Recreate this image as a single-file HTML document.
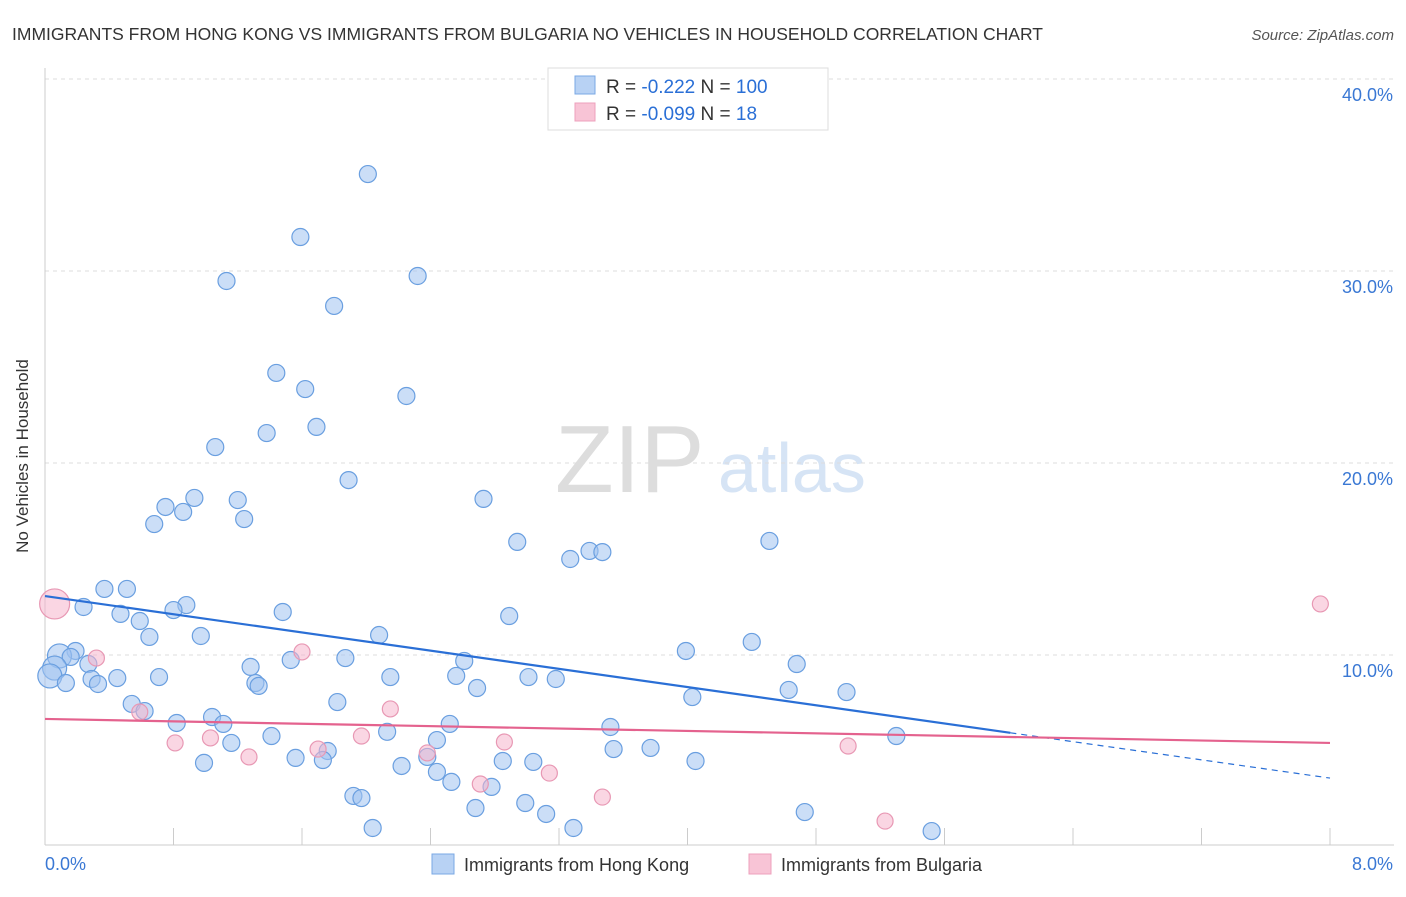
<!DOCTYPE html>
<html><head><meta charset="utf-8"><style>
body{margin:0;background:#fff;font-family:"Liberation Sans",sans-serif}
svg text{font-family:"Liberation Sans",sans-serif}
</style></head><body>
<svg id="c" width="1406" height="892">
<text x="12" y="40" font-size="17.5" fill="#333">IMMIGRANTS FROM HONG KONG VS IMMIGRANTS FROM BULGARIA NO VEHICLES IN HOUSEHOLD CORRELATION CHART</text>
<text x="1394" y="40" font-size="15" fill="#555" text-anchor="end" font-style="italic">Source: ZipAtlas.com</text>
<text x="28" y="456" font-size="17" fill="#333" text-anchor="middle" transform="rotate(-90 28 456)">No Vehicles in Household</text>
<text x="555" y="492" font-size="96" fill="#ddd" font-family="Liberation Serif">ZIP</text>
<text x="718" y="492" font-size="70" fill="#d6e4f5">atlas</text>
<g id="grid"></g><g id="axes"></g><g id="pts"></g><g id="trend"></g>
<g>
<rect x="548" y="68" width="280" height="62" fill="#fff" stroke="#ddd"/>
<rect x="575" y="76" width="20" height="18" fill="#b8d2f4" stroke="#7aa8e4"/>
<rect x="575" y="103" width="20" height="18" fill="#f8c4d6" stroke="#eea0bc"/>
<text x="606" y="93" font-size="19" fill="#333">R = <tspan fill="#2a6fd6">-0.222</tspan>   N = <tspan fill="#2a6fd6">100</tspan></text>
<text x="606" y="120" font-size="19" fill="#333">R = <tspan fill="#2a6fd6">-0.099</tspan>   N = <tspan fill="#2a6fd6">  18</tspan></text>
</g>
<g>
<rect x="432" y="854" width="22" height="20" fill="#b8d2f4" stroke="#7aa8e4"/>
<text x="464" y="871" font-size="18" fill="#333">Immigrants from Hong Kong</text>
<rect x="749" y="854" width="22" height="20" fill="#f8c4d6" stroke="#eea0bc"/>
<text x="781" y="871" font-size="18" fill="#333">Immigrants from Bulgaria</text>
</g>
</svg>
<script>
const blueX=[2.01,1.59,1.13,2.32,1.80,1.44,1.62,2.25,1.69,1.38,1.06,1.89,2.73,0.93,1.20,0.75,0.86,1.24,0.68,2.94,4.51,3.39,3.47,3.27,0.37,0.51,0.24,0.88,0.80,0.47,1.48,2.89,0.59,0.65,0.97,2.08,4.40,0.19,0.09,0.16,3.99,1.87,1.53,2.61,0.27,1.28,4.68,0.06,0.03,0.71,0.45,0.29,2.15,2.56,3.01,3.18,0.13,0.33,1.31,1.33,2.69,4.63,4.99,4.03,1.82,0.54,0.62,1.04,0.82,1.11,2.52,3.52,2.13,1.41,5.30,2.44,1.16,3.54,3.77,1.76,2.38,1.56,1.73,0.99,2.85,3.04,4.05,2.22,2.44,2.53,2.78,1.92,1.97,2.99,2.68,3.12,4.73,2.04,3.29,5.52];
const blueY=[35.05,31.77,29.48,29.74,28.18,24.69,23.85,23.49,21.88,21.56,20.83,19.11,18.13,18.18,18.07,17.71,17.45,17.08,16.82,15.89,15.94,15.42,15.36,15.00,13.44,13.44,12.50,12.60,12.34,12.14,12.24,12.03,11.77,10.94,10.99,11.04,10.68,10.21,9.95,9.90,10.21,9.84,9.74,9.69,9.53,9.38,9.53,9.32,8.91,8.85,8.80,8.75,8.85,8.91,8.85,8.75,8.54,8.49,8.54,8.39,8.28,8.18,8.07,7.81,7.55,7.45,7.08,6.77,6.46,6.41,6.41,6.25,6.00,5.78,5.78,5.57,5.42,5.10,5.16,5.00,4.69,4.64,4.53,4.38,4.48,4.43,4.48,4.22,3.91,3.39,3.13,2.66,2.55,2.29,2.03,1.72,1.82,0.99,0.99,0.83];
const pinkX=[0.06,0.32,1.60,0.59,2.15,0.81,1.03,1.97,1.70,1.27,2.38,2.86,5.00,2.71,3.14,3.47,5.23,7.94];
const pinkY=[12.66,9.84,10.16,7.03,7.19,5.42,5.68,5.78,5.10,4.69,4.90,5.47,5.26,3.28,3.85,2.60,1.35,12.66];
const yTicks=[10,20,30,40];
const yTickLabels=["10.0%","20.0%","30.0%","40.0%"];
const xTicks=[0,0.8,1.6,2.4,3.2,4.0,4.8,5.6,6.4,7.2,8.0];
const blueTrend=[13.07,3.59]; const blueSolidEnd=6.01;
const pinkTrend=[6.67,5.42];
const X=v=>45+v*1285/8, Y=v=>847-v*19.2;
const NS="http://www.w3.org/2000/svg";
function mk(p,t,a){const e=document.createElementNS(NS,t);for(const k in a)e.setAttribute(k,a[k]);p.appendChild(e);return e;}
const grid=document.getElementById('grid'),axes=document.getElementById('axes'),pts=document.getElementById('pts'),tr=document.getElementById('trend');
yTicks.forEach((t,i)=>{
 const l=mk(grid,'line',{x1:45,x2:1394,y1:Y(t),y2:Y(t),stroke:'#ddd','stroke-dasharray':'4,4'});
 
 
 const tx=mk(axes,'text',{x:1393,y:Y(t)+22,'font-size':18,fill:'#3a78d4','text-anchor':'end'});tx.textContent=yTickLabels[i];
 
 
});
mk(axes,'line',{x1:45,x2:45,y1:68,y2:845,stroke:'#ccc'});
mk(axes,'line',{x1:45,x2:1394,y1:845,y2:845,stroke:'#ccc'});
xTicks.forEach(t=>{const l=mk(axes,'line',{x1:X(t),x2:X(t),y1:828,y2:845,stroke:'#ccc'});
 
 });
let t0=mk(axes,'text',{x:45,y:870,'font-size':18,fill:'#3a78d4'});t0.textContent='0.0%';


let t1=mk(axes,'text',{x:1393,y:870,'font-size':18,fill:'#3a78d4','text-anchor':'end'});t1.textContent='8.0%';


blueX.forEach((v,i)=>{const r=(v<0.1)?12:8.5;const c=mk(pts,'circle',{cx:X(v),cy:Y(blueY[i]),r:r,fill:'rgba(160,195,240,0.55)',stroke:'#6a9fe0','stroke-width':1.2});
 
 });
pinkX.forEach((v,i)=>{const r=(v<0.1)?15:8;const c=mk(pts,'circle',{cx:X(v),cy:Y(pinkY[i]),r:r,fill:'rgba(246,180,204,0.55)',stroke:'#e898b4','stroke-width':1.2});
 
 });
const by=x=>blueTrend[0]+(blueTrend[1]-blueTrend[0])*x/8;
let b1=mk(tr,'line',{x1:X(0),y1:Y(by(0)),x2:X(blueSolidEnd),y2:Y(by(blueSolidEnd)),stroke:'#2a6fd6','stroke-width':2.2});


let b2=mk(tr,'line',{x1:X(blueSolidEnd),y1:Y(by(blueSolidEnd)),x2:X(8),y2:Y(by(8)),stroke:'#2a6fd6','stroke-width':1.2,'stroke-dasharray':'6,5'});


let p1=mk(tr,'line',{x1:X(0),y1:Y(pinkTrend[0]),x2:X(8),y2:Y(pinkTrend[1]),stroke:'#e4628e','stroke-width':2.2});


</script>
</body></html>
